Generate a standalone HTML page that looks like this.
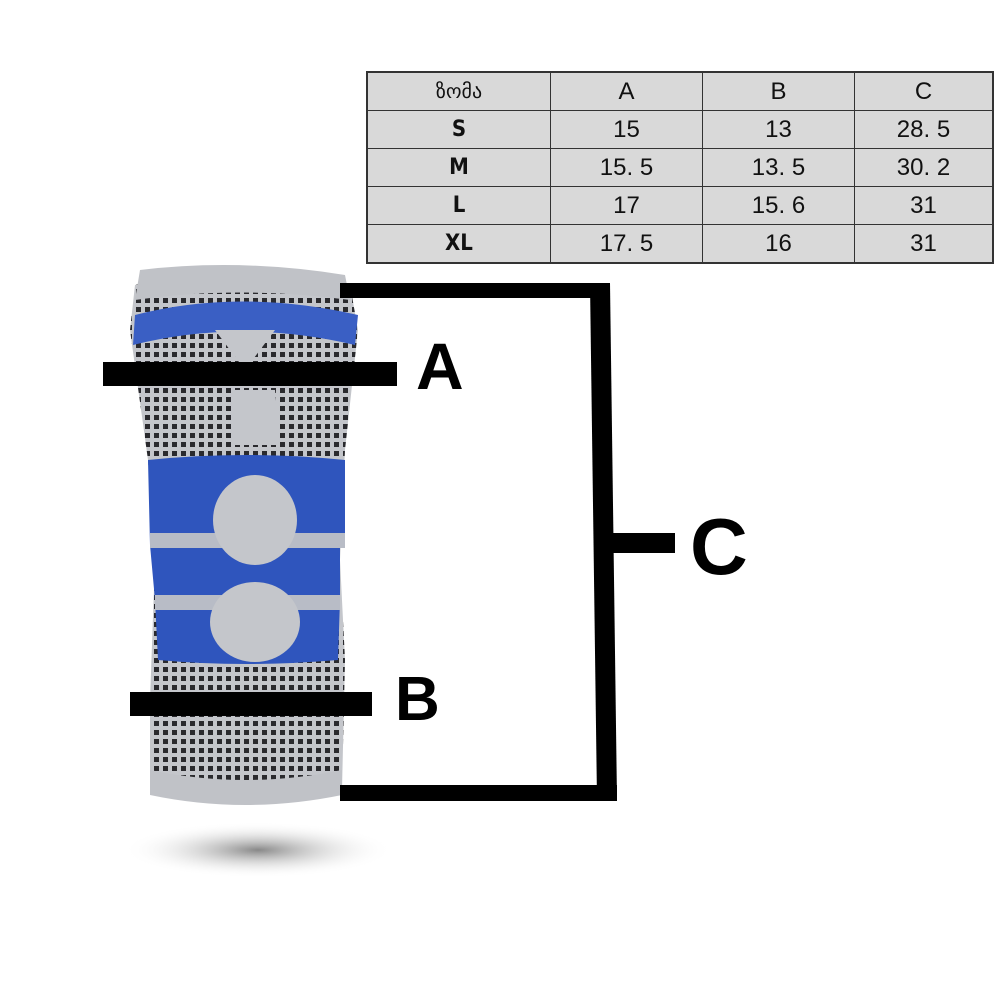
<!DOCTYPE html>
<html><head><meta charset="utf-8"><style>
body{margin:0;width:1000px;height:1000px;background:#fff;overflow:hidden;position:relative;font-family:"Liberation Sans",sans-serif}
table{position:absolute;left:366px;top:71px;width:628px;height:188px;border-collapse:collapse;background:#d9d9d9;border:2px solid #333}
td{border:1.5px solid #333;text-align:center;font-size:24px;color:#111;padding:0;height:37px}
td.h{font-weight:bold;font-family:"DejaVu Sans Condensed","Liberation Sans",sans-serif;font-size:22px}
</style></head><body>
<svg width="1000" height="1000" style="position:absolute;left:0;top:0">
<defs>
<pattern id="dots" width="9" height="9" patternUnits="userSpaceOnUse"><rect width="9" height="9" fill="#c4c6cb"/><rect x="1" y="1" width="5" height="5" fill="#2a2a2e"/></pattern>
<radialGradient id="sh"><stop offset="0" stop-color="#888"/><stop offset="1" stop-color="#fff" stop-opacity="0"/></radialGradient>
</defs>
<ellipse cx="258" cy="850" rx="135" ry="28" fill="url(#sh)"/>
<path d="M135 285 Q240 260 350 285 L358 330 L345 450 L340 560 L345 660 L342 790 Q240 815 150 790 L150 700 L155 560 L148 460 L130 330 Z" fill="url(#dots)"/>
<path d="M140 270 Q240 258 345 275 L350 300 Q240 285 135 300 Z" fill="#c0c2c7"/>
<path d="M135 315 Q240 288 358 315 L355 345 Q240 318 133 345 Z" fill="#3a5fc4"/>
<path d="M215 330 L275 330 L245 370 Z" fill="#c4c6cb"/>
<path d="M235 390 L275 390 L280 445 L235 445 Z" fill="#c4c6cb"/>
<path d="M148 460 Q245 450 345 460 L345 540 L340 545 L340 600 L338 660 Q245 668 158 660 L155 600 L150 545 Z" fill="#2f55bd"/>
<path d="M150 533 L345 533 L345 548 L150 548 Z" fill="#b8bcc6"/>
<path d="M155 595 L340 595 L340 610 L155 610 Z" fill="#b8bcc6"/>
<ellipse cx="255" cy="520" rx="42" ry="45" fill="#c4c6cb"/>
<ellipse cx="255" cy="622" rx="45" ry="40" fill="#c4c6cb"/>
<path d="M150 770 Q245 790 342 770 L342 795 Q245 815 150 795 Z" fill="#c0c2c7"/>
<g fill="#000">
<rect x="103" y="362" width="294" height="24"/>
<rect x="130" y="692" width="242" height="24"/>
<rect x="340" y="283" width="270" height="15"/>
<polygon points="590,283 610,283 617,800 597,800"/>
<rect x="340" y="785" width="277" height="16"/>
<rect x="610" y="533" width="65" height="20"/>
</g>
<g font-family="Liberation Sans,sans-serif" font-weight="bold" fill="#000">
<text x="416" y="389" font-size="66">A</text>
<text x="395" y="720" font-size="62">B</text>
<text x="690" y="574" font-size="80">C</text>
</g>
</svg>
<table>
<tr><td style="width:182px;font-size:20px">ზომა</td><td style="width:151px">A</td><td style="width:151px">B</td><td>C</td></tr>
<tr><td class="h">S</td><td>15</td><td>13</td><td>28. 5</td></tr>
<tr><td class="h">M</td><td>15. 5</td><td>13. 5</td><td>30. 2</td></tr>
<tr><td class="h">L</td><td>17</td><td>15. 6</td><td>31</td></tr>
<tr><td class="h">XL</td><td>17. 5</td><td>16</td><td>31</td></tr>
</table>
</body></html>
